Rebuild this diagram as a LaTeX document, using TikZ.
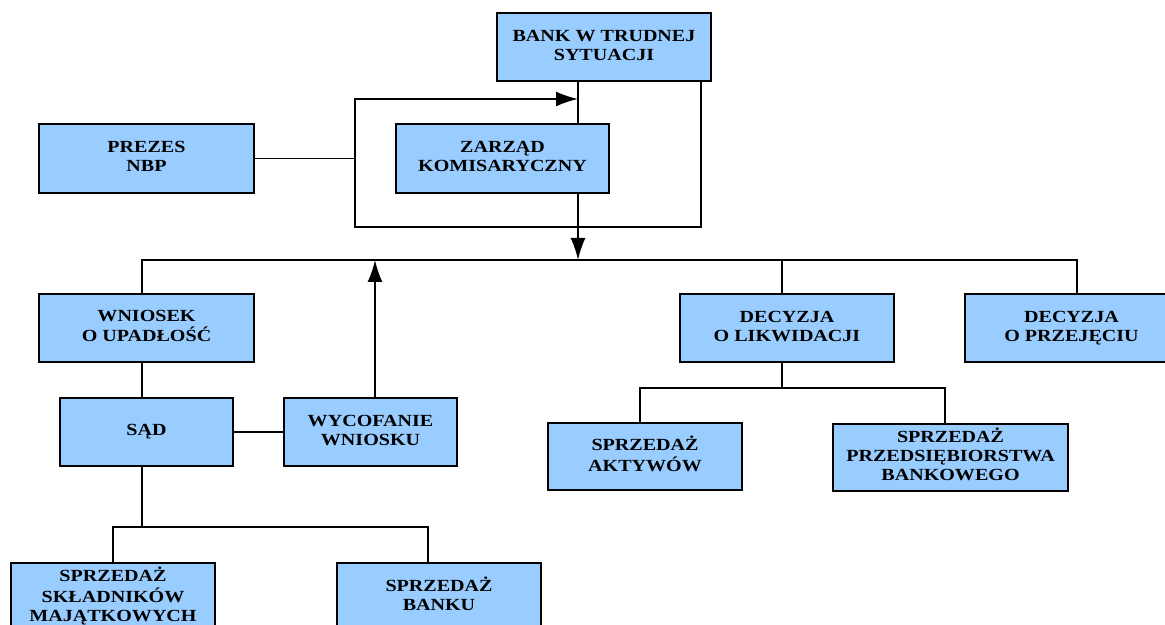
\documentclass[tikz,border=0pt]{standalone}
\usepackage{fontspec}
\setmainfont{Liberation Serif}
\usetikzlibrary{arrows.meta}
\definecolor{boxblue}{RGB}{153,204,255}
\newcommand{\lbl}[1]{\scalebox{1.18}[1]{\begin{tabular}{@{}c@{}}#1\end{tabular}}}
\tikzset{
  box/.style={draw=black, line width=1pt, fill=boxblue, inner sep=0pt,
    minimum height=34pt, font=\bfseries\fontsize{8.5}{9.5}\selectfont, align=center},
  conn/.style={line width=0.9pt, draw=black},
  arr/.style={conn, -{Latex[length=11pt,width=7.5pt]}}
}
\begin{document}
\begin{tikzpicture}[x=0.5pt,y=-0.5pt]
\useasboundingbox (0,0) rectangle (1165,625);
\clip (0,0) rectangle (1165,625);
% nodes
\node[box, minimum width=107pt] (bank) at (604,47) {\lbl{BANK W TRUDNEJ\\SYTUACJI}};
\node[box, minimum width=106.5pt, minimum height=34.5pt] (zarz) at (502.5,158.5) {\lbl{ZARZĄD\\KOMISARYCZNY}};
\node[box, minimum width=107.5pt, minimum height=34.5pt] (prezes) at (146.5,158.5) {\lbl{PREZES\\NBP}};
\node[box, minimum width=107.5pt] (wniosek) at (146.5,328) {\lbl{WNIOSEK\\O UPADŁOŚĆ}};
\node[box, minimum width=86.5pt] (sad) at (146.5,432) {\lbl{SĄD}};
\node[box, minimum width=86.5pt] (wycof) at (370.5,432) {\lbl{WYCOFANIE\\WNIOSKU}};
\node[box, minimum width=107pt] (likw) at (787,328) {\lbl{DECYZJA\\O LIKWIDACJI}};
\node[box, minimum width=106.5pt] (przej) at (1071.5,328) {\lbl{DECYZJA\\O PRZEJĘCIU}};
\node[box, minimum width=97pt, minimum height=33.5pt] (aktyw) at (645,456.5) {\lbl{SPRZEDAŻ\\AKTYWÓW}};
\node[box, minimum width=117.5pt, minimum height=33.5pt] (przeds) at (950.5,457.5) {\lbl{SPRZEDAŻ\\PRZEDSIĘBIORSTWA\\BANKOWEGO}};
\node[box, minimum width=102pt] (skladn) at (113,597) {\lbl{SPRZEDAŻ\\SKŁADNIKÓW\\MAJĄTKOWYCH}};
\node[box, minimum width=102pt] (banku) at (439,597) {\lbl{SPRZEDAŻ\\BANKU}};
% helper coordinates
\coordinate (jx) at (578,0);
\coordinate (rx) at (701,0);
\coordinate (loopBL) at (355,227);
\coordinate (loopTL) at (355,99);
\coordinate (busL) at (142,260);
\coordinate (busR) at (1077,260);
\coordinate (ax) at (375,0);
\coordinate (lkx) at (782,0);
\coordinate (bus2L) at (113,527);
\coordinate (bus2R) at (428,527);
\coordinate (bus3L) at (640,388);
\coordinate (bus3R) at (945,388);
% connectors
\draw[conn] (bank.south -| jx) -- (zarz.north -| jx);
\draw[arr] (bank.south -| rx) |- (loopBL) -- (loopTL) -- (loopTL -| jx);
\draw[conn] (prezes.east) -- (prezes.east -| loopBL);
\draw[arr] (zarz.south -| jx) -- (busL -| jx);
\draw[conn] (wniosek.north -| busL) -- (busL) -- (busR) -- (przej.north -| busR);
\draw[conn] (likw.north -| lkx) -- (busL -| lkx);
\draw[conn] (wniosek.south -| busL) -- (sad.north -| busL);
\draw[conn] (sad.east) -- (wycof.west);
\draw[arr] (wycof.north -| ax) -- (busL -| ax);
\draw[conn] (sad.south -| busL) -- (bus2L -| busL);
\draw[conn] (skladn.north -| bus2L) -- (bus2L) -- (bus2R) -- (banku.north -| bus2R);
\draw[conn] (likw.south -| lkx) -- (bus3L -| lkx);
\draw[conn] (aktyw.north -| bus3L) -- (bus3L) -- (bus3R) -- (przeds.north -| bus3R);
\end{tikzpicture}
\end{document}
